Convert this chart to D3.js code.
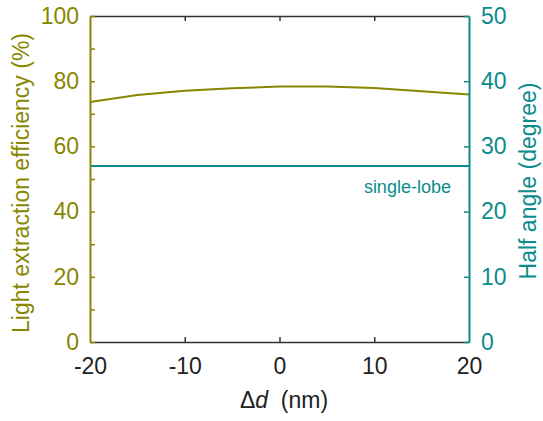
<!DOCTYPE html>
<html>
<head>
<meta charset="utf-8">
<script src="https://cdn.jsdelivr.net/npm/d3@7"></script>
<style>
body { margin: 0; background: #fff; }
text { font-family: "Liberation Sans", Arial, sans-serif; }
</style>
</head>
<body>
<div id="canvas"></div>
<script>
"use strict"
// canvas size
let svgWidth = 543;
let svgHeight = 421;

let margin = { top: 16, right: 74, bottom: 79, left: 90 };

// data
let deltaD = [-20, -15, -10, -5, 0, 5, 10, 15, 20];
let efficiency = [73.6, 75.8, 77.1, 77.8, 78.4, 78.4, 77.9, 76.9, 75.9];
let halfAngle = [27, 27, 27, 27, 27, 27, 27, 27, 27];

let xTicks = [-20, -10, 0, 10, 20];
let leftTicks = [0, 20, 40, 60, 80, 100];
let leftMinor = [0, 10, 20, 30, 40, 50, 60, 70, 80, 90, 100];
let rightTicks = [0, 10, 20, 30, 40, 50];

let olive = "#878700";
let teal = "#0b8b8b";
let dark = "#333333";
let labelSize = "23px";

let svg = d3.select("#canvas")
    .append("svg")
    .attr("width", svgWidth)
    .attr("height", svgHeight);

svg.append("rect")
    .attr("width", svgWidth)
    .attr("height", svgHeight)
    .attr("fill", "#fff");

let x0 = margin.left, x1 = svgWidth - margin.right;
let y0 = svgHeight - margin.bottom, y1 = margin.top;

let xScale = d3.scaleLinear().domain([-20, 20]).range([x0, x1]);
let yLeft = d3.scaleLinear().domain([0, 100]).range([y0, y1]);
let yRight = d3.scaleLinear().domain([0, 50]).range([y0, y1]);

// data lines
let effLine = d3.line()
    .x(function(d, i){ return xScale(deltaD[i]); })
    .y(function(d){ return yLeft(d); });

let angLine = d3.line()
    .x(function(d, i){ return xScale(deltaD[i]); })
    .y(function(d){ return yRight(d); });

svg.append("path")
    .datum(efficiency)
    .attr("d", effLine)
    .attr("fill", "none")
    .attr("stroke", olive)
    .attr("stroke-width", 2);

svg.append("path")
    .datum(halfAngle)
    .attr("d", angLine)
    .attr("fill", "none")
    .attr("stroke", teal)
    .attr("stroke-width", 2);

svg.append("text")
    .attr("x", xScale(13.5))
    .attr("y", yRight(27) + 27)
    .attr("text-anchor", "middle")
    .attr("fill", teal)
    .style("font-size", "18px")
    .text("single-lobe");

// plain hyphen for negatives, like the original
let plainFormat = function(d){ return String(d); };

// bottom axis
let bottomAxis = svg.append("g")
    .attr("transform", "translate(0," + y0 + ")")
    .call(d3.axisBottom(xScale).tickValues(xTicks).tickSizeInner(-5).tickSizeOuter(0).tickPadding(16)
        .tickFormat(plainFormat));
bottomAxis.select(".domain").attr("stroke", dark).attr("stroke-width", 1.5);
bottomAxis.selectAll(".tick line").attr("stroke", dark).attr("stroke-width", 1.5)
    .filter(function(d){ return d == -20 || d == 20; }).remove();
bottomAxis.selectAll(".tick text").attr("fill", "#222").style("font-size", labelSize)
    .style("font-family", "Liberation Sans, Arial, sans-serif");

// top axis
let topAxis = svg.append("g")
    .attr("transform", "translate(0," + y1 + ")")
    .call(d3.axisTop(xScale).tickValues(xTicks).tickSizeInner(-5).tickSizeOuter(0).tickFormat(""));
topAxis.select(".domain").attr("stroke", dark).attr("stroke-width", 1.5);
topAxis.selectAll(".tick line").attr("stroke", dark).attr("stroke-width", 1.5)
    .filter(function(d){ return d == -20 || d == 20; }).remove();

// left axis
let leftAxis = svg.append("g")
    .attr("transform", "translate(" + x0 + ",0)")
    .call(d3.axisLeft(yLeft).tickValues(leftMinor).tickSizeInner(-5).tickSizeOuter(0).tickPadding(11)
        .tickFormat(function(d){ return leftTicks.indexOf(d) >= 0 ? d : ""; }));
leftAxis.select(".domain").attr("stroke", olive).attr("stroke-width", 2);
leftAxis.selectAll(".tick line").attr("stroke", olive).attr("stroke-width", 1.5);
leftAxis.selectAll(".tick text").attr("fill", olive).style("font-size", labelSize)
    .style("font-family", "Liberation Sans, Arial, sans-serif");

// right axis
let rightAxis = svg.append("g")
    .attr("transform", "translate(" + x1 + ",0)")
    .call(d3.axisRight(yRight).tickValues(rightTicks).tickSizeInner(-5).tickSizeOuter(0).tickPadding(12));
rightAxis.select(".domain").attr("stroke", teal).attr("stroke-width", 2);
rightAxis.selectAll(".tick line").attr("stroke", teal).attr("stroke-width", 1.5);
rightAxis.selectAll(".tick text").attr("fill", teal).style("font-size", labelSize)
    .style("font-family", "Liberation Sans, Arial, sans-serif");

// axis titles
svg.append("text")
    .attr("transform", "translate(29,183) rotate(-90)")
    .attr("text-anchor", "middle")
    .attr("fill", olive)
    .style("font-size", labelSize)
    .text("Light extraction efficiency (%)");

svg.append("text")
    .attr("transform", "translate(536,181) rotate(-90)")
    .attr("text-anchor", "middle")
    .attr("fill", teal)
    .style("font-size", labelSize)
    .text("Half angle (degree)");

let xlab = svg.append("text")
    .attr("x", 284)
    .attr("y", 408)
    .attr("text-anchor", "middle")
    .attr("fill", "#222")
    .style("font-size", labelSize);
xlab.append("tspan").text("\u0394");
xlab.append("tspan").style("font-style", "italic").text("d");
xlab.append("tspan").attr("xml:space", "preserve").text("  (nm)");
</script>
</body>
</html>
